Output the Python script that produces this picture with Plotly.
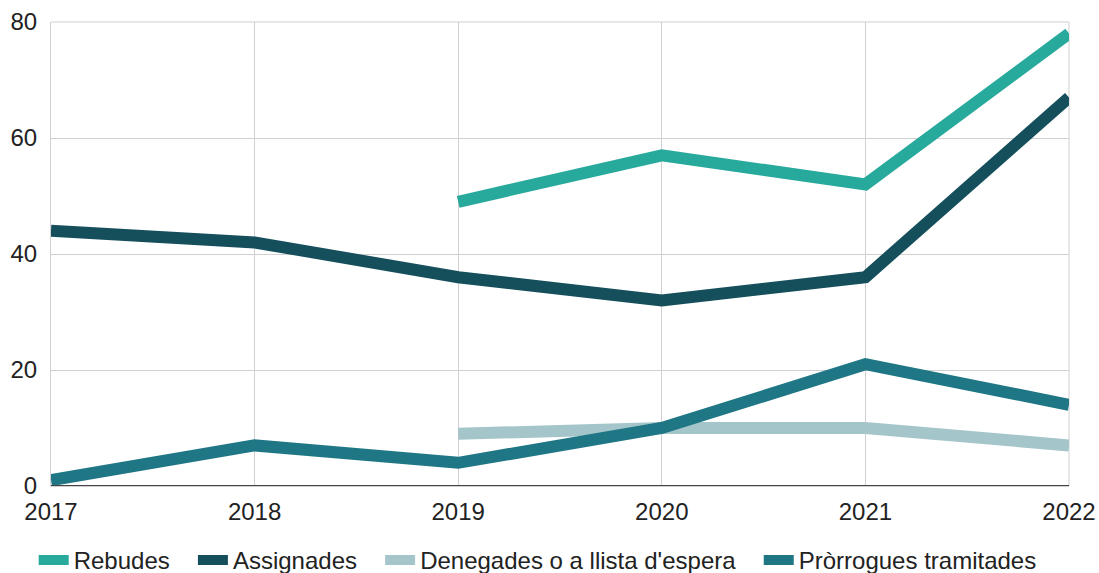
import plotly.graph_objects as go

years = [2017, 2018, 2019, 2020, 2021, 2022]
rebudes = [None, None, 49, 57, 52, 78]
assignades = [44, 42, 36, 32, 36, 67]
denegades = [None, None, 9, 10, 10, 7]
prorrogues = [1, 7, 4, 10, 21, 14]

series = [
    ("Rebudes", rebudes, "#27a99b"),
    ("Assignades", assignades, "#154f5c"),
    ("Denegades o a llista d'espera", denegades, "#a4c5c9"),
    ("Pròrrogues tramitades", prorrogues, "#1f7684"),
]

pad = "\u00a0\u00a0\u2009"
fig = go.Figure()
for name, vals, color in series:
    fig.add_trace(go.Scatter(
        x=years, y=vals, name=name + pad, mode="lines",
        line=dict(color=color, width=12),
        connectgaps=False,
    ))

fig.update_layout(
    width=1099, height=573,
    margin=dict(l=51, r=30, t=22, b=87, autoexpand=False),
    paper_bgcolor="white", plot_bgcolor="white",
    font=dict(family="Liberation Sans, Arial, sans-serif", size=24, color="#222222"),
    showlegend=True,
    legend=dict(orientation="h", x=-0.017, xanchor="left", y=-0.112, yanchor="top",
                font=dict(size=24, color="#222222"), itemwidth=30,
                traceorder="normal"),
    xaxis=dict(range=[2017, 2022], tickvals=years, ticktext=[str(y) for y in years],
               showgrid=True, gridcolor="#d0d0d0", gridwidth=1,
               zeroline=False, showline=True, linecolor="#d0d0d0", mirror=False,
               ticks="", ticklen=0, ticklabelstandoff=4),
    yaxis=dict(range=[0, 80], tickvals=[0, 20, 40, 60, 80],
               showgrid=True, gridcolor="#d0d0d0", gridwidth=1,
               zeroline=False, showline=True, linecolor="#d0d0d0",
               ticks="", ticklabelstandoff=8),
)
fig.add_shape(type="line", xref="paper", yref="y", x0=0, x1=1, y0=0, y1=0,
              line=dict(color="#444444", width=2), layer="above")
fig.add_shape(type="line", xref="paper", yref="paper", x0=1, x1=1, y0=0, y1=1,
              line=dict(color="#d0d0d0", width=1), layer="below")
fig.add_shape(type="line", xref="paper", yref="paper", x0=0, x1=1, y0=1, y1=1,
              line=dict(color="#d0d0d0", width=1), layer="below")

fig.write_html("out.html", config={"displayModeBar": False},
               post_script="document.body.style.margin='0';document.body.style.overflow='hidden';")
